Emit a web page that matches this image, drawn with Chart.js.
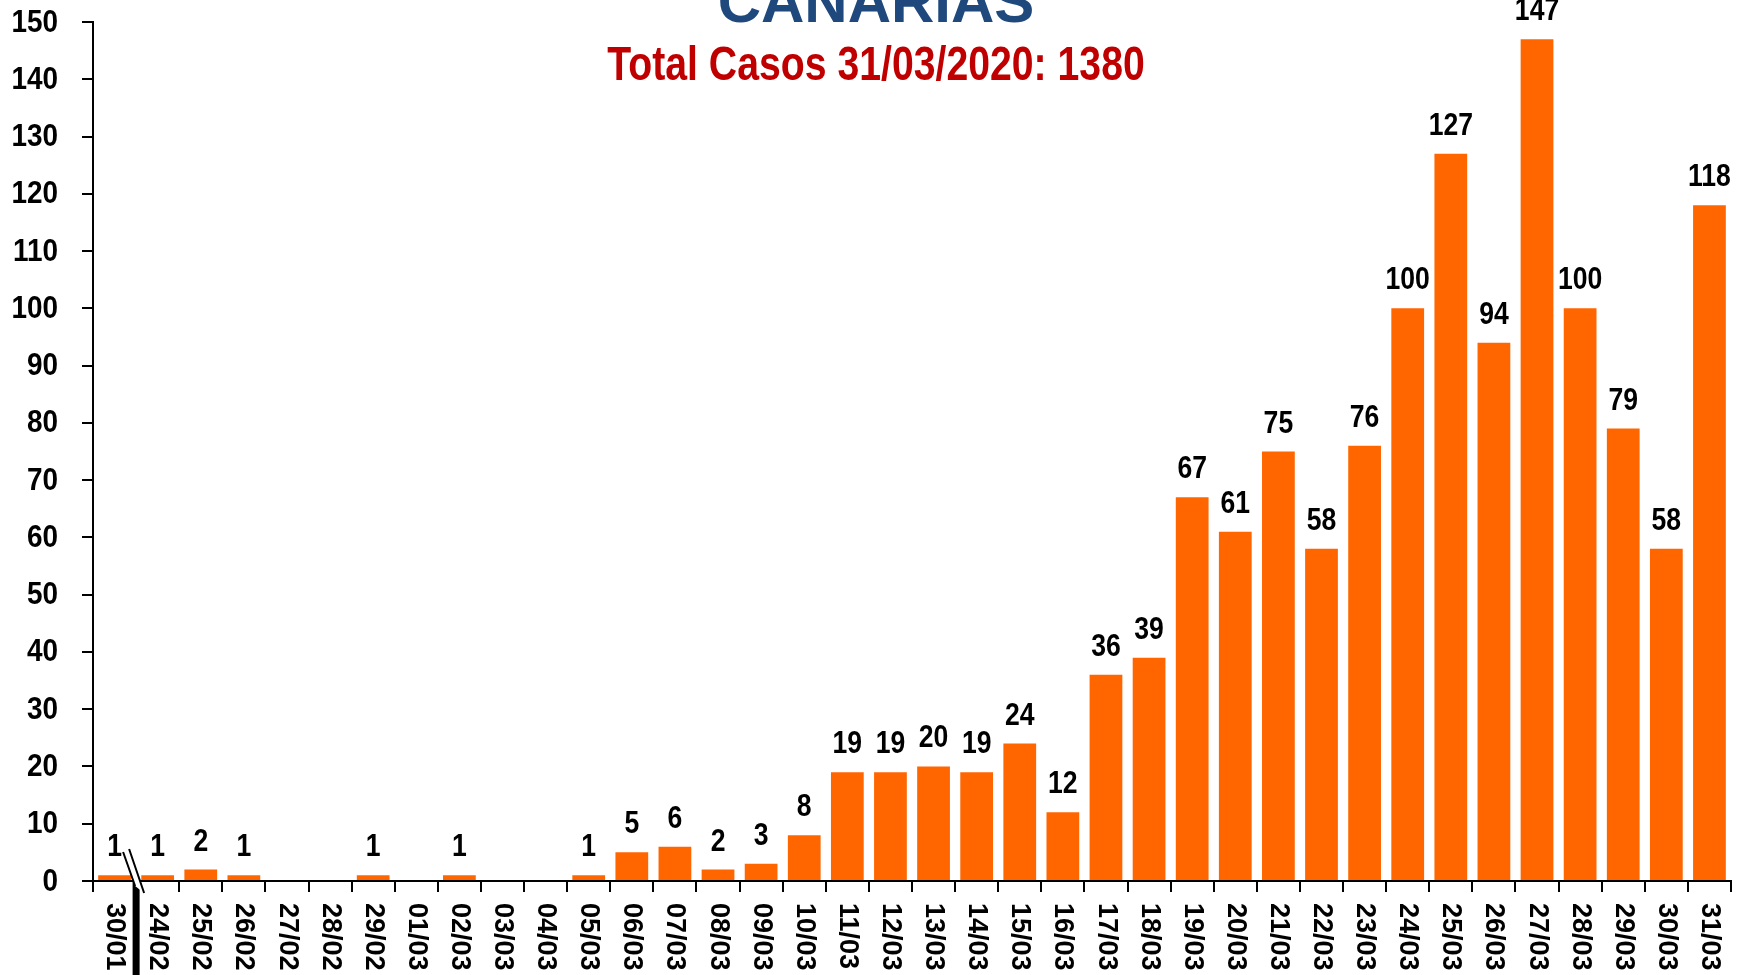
<!DOCTYPE html>
<html>
<head>
<meta charset="utf-8">
<title>Canarias</title>
<script src="https://cdn.jsdelivr.net/npm/chart.js@4.4.1/dist/chart.umd.min.js"></script>
<style>
  html, body { margin: 0; padding: 0; background: #fff; }
  #wrap { width: 1746px; height: 975px; }
</style>
</head>
<body>
<div id="wrap"><canvas id="casesChart" width="1746" height="975"></canvas></div>
<script>
const titleText = 'CANARIAS';
const subtitleText = 'Total Casos 31/03/2020: 1380';

const dates = ['30/01', '24/02', '25/02', '26/02', '27/02', '28/02', '29/02',
    '01/03', '02/03', '03/03', '04/03', '05/03', '06/03', '07/03', '08/03', '09/03',
    '10/03', '11/03', '12/03', '13/03', '14/03', '15/03', '16/03', '17/03', '18/03',
    '19/03', '20/03', '21/03', '22/03', '23/03', '24/03', '25/03', '26/03', '27/03',
    '28/03', '29/03', '30/03', '31/03'];

const cases = [1, 1, 2, 1, 0, 0, 1,
    0, 1, 0, 0, 1, 5, 6, 2, 3,
    8, 19, 19, 20, 19, 24, 12, 36, 39,
    67, 61, 75, 58, 76, 100, 127, 94, 147,
    100, 79, 58, 118];

const yTicks = [0, 10, 20, 30, 40, 50, 60, 70, 80, 90, 100, 110, 120, 130, 140, 150];

const fontFamily = "'Liberation Sans', Arial, sans-serif";

// no narrow font installed, so squeeze Liberation Sans horizontally
function narrowText(c, text, x, y, size, squeeze, align, baseline) {
    c.save();
    c.translate(x, y);
    c.scale(squeeze, 1);
    c.font = 'bold ' + size + 'px ' + fontFamily;
    c.textAlign = align;
    c.textBaseline = baseline;
    c.fillText(text, 0, 0);
    c.restore();
}

// value above each bar (skip zeros)
const valueLabels = {
    id: 'valueLabels',
    afterDatasetsDraw(chart) {
        const c = chart.ctx;
        const meta = chart.getDatasetMeta(0);
        c.save();
        c.fillStyle = '#000';
        meta.data.forEach((bar, i) => {
            if (cases[i] > 0) narrowText(c, String(cases[i]), bar.x, bar.y - 19, 32, 0.83, 'center', 'alphabetic');
        });
        c.restore();
    }
};

// y tick labels and rotated dates
const axisLabels = {
    id: 'axisLabels',
    afterDraw(chart) {
        const x = chart.scales.x;
        const y = chart.scales.y;
        const c = chart.ctx;
        c.save();
        c.fillStyle = '#000';
        yTicks.forEach(v => {
            narrowText(c, String(v), y.right - 11 - 24, y.getPixelForValue(v) + 1, 31, 0.9, 'right', 'middle');
        });
        c.font = 'bold 27px ' + fontFamily;
        c.textAlign = 'left';
        c.textBaseline = 'middle';
        dates.forEach((d, i) => {
            c.save();
            c.translate(x.getPixelForTick(i), x.bottom + 11);
            c.rotate(Math.PI / 2);
            c.fillText(d, 0, 0);
            c.restore();
        });
        c.restore();
    }
};

// axis break between 30/01 and 24/02
const axisBreak = {
    id: 'axisBreak',
    afterDraw(chart) {
        const x = chart.scales.x;
        const y = chart.scales.y;
        const c = chart.ctx;
        const bx = (x.getPixelForTick(0) + x.getPixelForTick(1)) / 2;
        const by = y.getPixelForValue(0);
        c.save();
        c.fillStyle = '#000';
        c.fillRect(bx - 3.5, by, 7, chart.height - by);
        c.fillStyle = '#fff';
        c.beginPath();
        c.moveTo(bx - 13, by - 29);
        c.lineTo(bx - 7, by - 32);
        c.lineTo(bx + 8, by + 12);
        c.lineTo(bx - 1, by + 5);
        c.closePath();
        c.fill();
        c.strokeStyle = '#000';
        c.lineWidth = 2;
        c.beginPath();
        c.moveTo(bx - 13, by - 29);
        c.lineTo(bx - 1, by + 5);
        c.moveTo(bx - 7, by - 32);
        c.lineTo(bx + 8, by + 12);
        c.stroke();
        c.restore();
    }
};

const headings = {
    id: 'headings',
    afterDraw(chart) {
        const c = chart.ctx;
        const cx = chart.width / 2 + 3;
        c.save();
        c.font = 'bold 60px ' + fontFamily;
        c.textAlign = 'center';
        c.textBaseline = 'alphabetic';
        c.fillStyle = '#1F497D';
        c.fillText(titleText, cx, 22);
        c.fillStyle = '#C00000';
        narrowText(c, subtitleText, cx, 80, 49, 0.8, 'center', 'alphabetic');
        c.restore();
    }
};

const ctx = document.getElementById('casesChart').getContext('2d');
const casesChart = new Chart(ctx, {
    type: 'bar',
    data: {
        labels: dates,
        datasets: [
            {
                label: 'Casos',
                data: cases,
                backgroundColor: '#FF6600',
                borderWidth: 0,
                barPercentage: 0.76,
                categoryPercentage: 1
            }
        ]
    },
    options: {
        responsive: false,
        animation: false,
        layout: {
            padding: { top: 22, left: 15, right: 15, bottom: 83 }
        },
        plugins: {
            legend: { display: false },
            tooltip: { enabled: false }
        },
        scales: {
            x: {
                offset: true,
                grid: {
                    offset: true,
                    drawOnChartArea: false,
                    drawTicks: true,
                    tickLength: 11,
                    color: '#000',
                    lineWidth: 2
                },
                border: { display: true, color: '#000', width: 2 },
                ticks: { display: false },
                afterFit(scale) {
                    scale.height = 11;
                    scale.paddingLeft = 0;
                    scale.paddingRight = 0;
                }
            },
            y: {
                min: 0,
                max: 150,
                afterBuildTicks(scale) {
                    scale.ticks = yTicks.map(v => ({ value: v }));
                },
                grid: {
                    drawOnChartArea: false,
                    drawTicks: true,
                    tickLength: 11,
                    color: '#000',
                    lineWidth: 2
                },
                border: { display: true, color: '#000', width: 2 },
                ticks: { display: false },
                afterFit(scale) {
                    scale.width = 78;
                    scale.paddingTop = 0;
                    scale.paddingBottom = 0;
                }
            }
        }
    },
    plugins: [valueLabels, axisLabels, axisBreak, headings]
});
</script>
</body>
</html>
